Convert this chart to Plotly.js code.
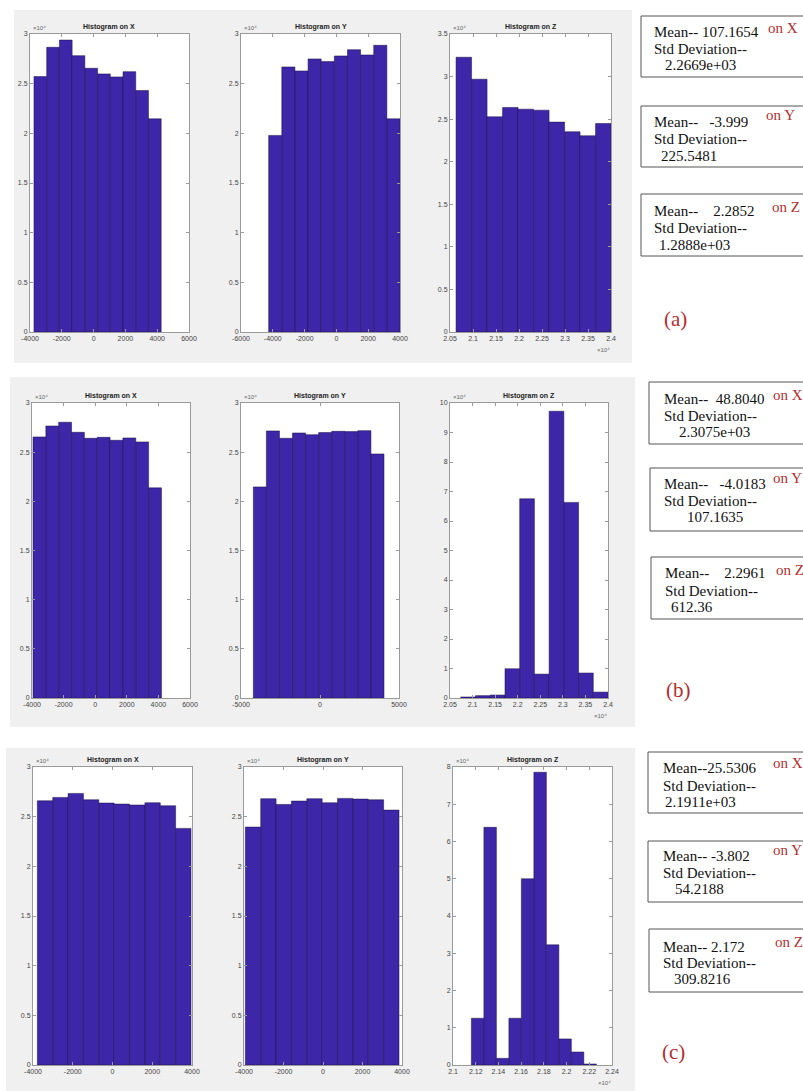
<!DOCTYPE html>
<html>
<head>
<meta charset="utf-8">
<script src="https://cdn.plot.ly/plotly-3.0.1.min.js"></script>
<style>
  html, body { margin: 0; padding: 0; background: #ffffff; }
  #chart { width: 803px; height: 1091px; }
</style>
</head>
<body>
<div id="chart"></div>
<script>
// ---------- histogram data: bin centres, bin widths and counts ----------
// (a)
const aX_centres = [-3350, -2550, -1750, -950, -150, 650, 1450, 2250, 3050, 3850];
const aX_width = 800;
const aX_counts = [25710, 28660, 29390, 27820, 26550, 25980, 25680, 26210, 24310, 21460];

const aY_centres = [-3847, -3021, -2195, -1369, -543, 283, 1109, 1935, 2761, 3587];
const aY_width = 826;
const aY_counts = [19790, 26680, 26280, 27490, 27220, 27790, 28420, 27890, 28860, 21460];

const aZ_centres = [20800, 21137, 21474, 21811, 22148, 22485, 22822, 23159, 23496, 23833];
const aZ_width = 337;
const aZ_counts = [32270, 29690, 25270, 26370, 26170, 26050, 24650, 23520, 23050, 24490];

// (b)
const bX_centres = [-3530, -2717, -1904, -1091, -278, 535, 1348, 2161, 2974, 3787];
const bX_width = 813;
const bX_counts = [26550, 27660, 28040, 27020, 26410, 26510, 26210, 26450, 26040, 21370];

const bY_centres = [-3806, -2979, -2152, -1325, -498, 329, 1156, 1983, 2810, 3637];
const bY_width = 827;
const bY_counts = [21470, 27160, 26410, 26950, 26780, 26990, 27120, 27090, 27190, 24820];

const bZ_centres = [20903, 21229, 21555, 21881, 22207, 22533, 22859, 23185, 23511, 23837];
const bZ_width = 326;
const bZ_counts = [350, 800, 1000, 9920, 67530, 8100, 97200, 66300, 8460, 2000];

// (c)
const cX_centres = [-3394, -2621, -1848, -1075, -302, 471, 1244, 2017, 2790, 3563];
const cX_width = 773;
const cX_counts = [26600, 26940, 27340, 26700, 26370, 26270, 26170, 26400, 26100, 23820];

const cY_centres = [-3543, -2765, -1987, -1209, -431, 347, 1125, 1903, 2681, 3459];
const cY_width = 778;
const cY_counts = [23950, 26810, 26230, 26570, 26810, 26400, 26840, 26770, 26700, 25660];

const cZ_centres = [21217, 21327, 21437, 21547, 21657, 21767, 21877, 21987, 22097, 22207];
const cZ_width = 110;
const cZ_counts = [12540, 63800, 1790, 12540, 50000, 78580, 32260, 6990, 3490, 270];

// axis tick values
const ticksXY_a_x = [-4000, -2000, 0, 2000, 4000, 6000];
const ticksXY_a_y = [-6000, -4000, -2000, 0, 2000, 4000];
const ticksXY_b_y = [-5000, 0, 5000];
const ticksXY_c = [-4000, -2000, 0, 2000, 4000];
const ticksZ_ab = [20500, 21000, 21500, 22000, 22500, 23000, 23500, 24000];
const ticksZ_c = [21000, 21200, 21400, 21600, 21800, 22000, 22200, 22400];
const countTicks3 = [0, 5000, 10000, 15000, 20000, 25000, 30000];
const countTicks35 = [0, 5000, 10000, 15000, 20000, 25000, 30000, 35000];
const countTicks10 = [0, 10000, 20000, 30000, 40000, 50000, 60000, 70000, 80000, 90000, 100000];
const countTicks8 = [0, 10000, 20000, 30000, 40000, 50000, 60000, 70000, 80000];

// statistics printed beside each row
const statsA = [
  ['Mean--\u00a0107.1654', 'Std Deviation--', '2.2669e+03', 'on X'],
  ['Mean--\u00a0\u00a0\u00a0-3.999', 'Std Deviation--', '225.5481', 'on Y'],
  ['Mean--\u00a0\u00a0\u00a0\u00a02.2852', 'Std Deviation--', '1.2888e+03', 'on Z']
];
const statsB = [
  ['Mean--\u00a0\u00a048.8040', 'Std Deviation--', '2.3075e+03', 'on X'],
  ['Mean--\u00a0\u00a0\u00a0-4.0183', 'Std Deviation--', '107.1635', 'on Y'],
  ['Mean--\u00a0\u00a0\u00a0\u00a02.2961', 'Std Deviation--', '612.36', 'on Z']
];
const statsC = [
  ['Mean--25.5306', 'Std Deviation--', '2.1911e+03', 'on X'],
  ['Mean--\u00a0-3.802', 'Std Deviation--', '54.2188', 'on Y'],
  ['Mean--\u00a02.172', 'Std Deviation--', '309.8216', 'on Z']
];
const panelLabels = ['(a)', '(b)', '(c)'];
const histTitles = ['Histogram on X', 'Histogram on Y', 'Histogram on Z'];
const exponentLabel = '\u00d710\u2074';

// ---------- page geometry (pixels) ----------
const W = 803, H = 1091;
const px = v => v / W;
const py = v => 1 - v / H;

const BAR_FILL = 'rgb(62,38,168)';
const BAR_EDGE = 'rgba(25,15,70,0.85)';
const AX_COL = '#9a9a9a';
const RED = 'rgb(180,45,45)';
const SANS = 'Liberation Sans, Arial, sans-serif';
const SERIF = 'Liberation Serif, Times New Roman, serif';

// plot rectangles: [left, right, top, bottom]
const rects = [
  [30, 189, 34, 332], [241, 400, 34, 332], [450, 611, 34, 332],
  [32, 190, 403, 698], [241, 399, 403, 698], [450, 608, 403, 698],
  [33, 192, 767, 1065], [244, 402, 767, 1065], [453, 612, 767, 1065]
];

const hists = [
  {c: aX_centres, w: aX_width, n: aX_counts, xr: [-4000, 6000], xt: ticksXY_a_x, yr: [0, 30000], yt: countTicks3, z: false},
  {c: aY_centres, w: aY_width, n: aY_counts, xr: [-6000, 4000], xt: ticksXY_a_y, yr: [0, 30000], yt: countTicks3, z: false},
  {c: aZ_centres, w: aZ_width, n: aZ_counts, xr: [20500, 24000], xt: ticksZ_ab, yr: [0, 35000], yt: countTicks35, z: true},
  {c: bX_centres, w: bX_width, n: bX_counts, xr: [-4000, 6000], xt: ticksXY_a_x, yr: [0, 30000], yt: countTicks3, z: false},
  {c: bY_centres, w: bY_width, n: bY_counts, xr: [-5000, 5000], xt: ticksXY_b_y, yr: [0, 30000], yt: countTicks3, z: false},
  {c: bZ_centres, w: bZ_width, n: bZ_counts, xr: [20500, 24000], xt: ticksZ_ab, yr: [0, 100000], yt: countTicks10, z: true},
  {c: cX_centres, w: cX_width, n: cX_counts, xr: [-4000, 4000], xt: ticksXY_c, yr: [0, 30000], yt: countTicks3, z: false},
  {c: cY_centres, w: cY_width, n: cY_counts, xr: [-4000, 4000], xt: ticksXY_c, yr: [0, 30000], yt: countTicks3, z: false},
  {c: cZ_centres, w: cZ_width, n: cZ_counts, xr: [21000, 22400], xt: ticksZ_c, yr: [0, 80000], yt: countTicks8, z: true}
];

const scaled = v => String(+(v / 10000).toFixed(4));

const traces = [];
const layout = {
  width: W, height: H,
  margin: {l: 0, r: 0, t: 0, b: 0},
  paper_bgcolor: '#ffffff',
  plot_bgcolor: 'rgba(0,0,0,0)',
  showlegend: false,
  bargap: 0,
  shapes: [],
  annotations: []
};

// grey figure panels
[[14, 632, 10, 363], [10, 635, 377, 727], [6, 635, 748, 1091]].forEach(r => {
  layout.shapes.push({type: 'rect', xref: 'paper', yref: 'paper', layer: 'below',
    x0: px(r[0]), x1: px(r[1]), y0: py(r[3]), y1: py(r[2]),
    fillcolor: '#f0f0f0', line: {width: 0}});
});

const axisBase = {
  showline: true, linecolor: AX_COL, linewidth: 1, mirror: 'ticks',
  ticks: 'inside', ticklen: 3, tickwidth: 1, tickcolor: AX_COL,
  showgrid: false, zeroline: false, fixedrange: true,
  tickfont: {family: SANS, size: 7, color: '#444'}
};

hists.forEach((h, i) => {
  const k = i + 1;
  const xa = 'xaxis' + (k === 1 ? '' : k);
  const ya = 'yaxis' + (k === 1 ? '' : k);
  const xr = 'x' + (k === 1 ? '' : k);
  const yr = 'y' + (k === 1 ? '' : k);
  const r = rects[i];

  traces.push({
    type: 'bar', x: h.c, y: h.n, width: h.w,
    xaxis: xr, yaxis: yr,
    marker: {color: BAR_FILL, line: {color: BAR_EDGE, width: 0.6}},
    hoverinfo: 'x+y'
  });

  layout[xa] = Object.assign({}, axisBase, {
    domain: [px(r[0]), px(r[1])], anchor: yr, range: h.xr,
    tickmode: 'array', tickvals: h.xt,
    ticktext: h.xt.map(v => h.z ? scaled(v) : String(v))
  });
  layout[ya] = Object.assign({}, axisBase, {
    domain: [py(r[3]), py(r[2])], anchor: xr, range: h.yr,
    tickmode: 'array', tickvals: h.yt, ticktext: h.yt.map(scaled)
  });

  // white axes area
  layout.shapes.push({type: 'rect', xref: 'paper', yref: 'paper', layer: 'below',
    x0: px(r[0]), x1: px(r[1]), y0: py(r[3]), y1: py(r[2]),
    fillcolor: '#ffffff', line: {width: 0}});

  // subplot title
  layout.annotations.push({xref: 'paper', yref: 'paper',
    x: px((r[0] + r[1]) / 2), y: py(r[2] - 1), xanchor: 'center', yanchor: 'bottom',
    text: '<b>' + histTitles[i % 3] + '</b>', showarrow: false,
    font: {family: SANS, size: 7, color: '#222'}});

  // count exponent
  layout.annotations.push({xref: 'paper', yref: 'paper',
    x: px(r[0] + 1), y: py(r[2] - 1), xanchor: 'left', yanchor: 'bottom',
    text: exponentLabel, showarrow: false,
    font: {family: SANS, size: 6, color: '#666'}});

  // value exponent on Z axes
  if (h.z) {
    layout.annotations.push({xref: 'paper', yref: 'paper',
      x: px(r[1] + 1), y: py(r[3] + 13), xanchor: 'right', yanchor: 'top',
      text: exponentLabel, showarrow: false,
      font: {family: SANS, size: 6, color: '#666'}});
  }
});

// statistics boxes: rectangles [x0, top, bottom] and text anchors
const boxGeom = [
  {boxes: [[641, 16, 77], [641, 106, 167], [641, 194, 256]],
   lines: [[[652, 32], [652, 49], [663, 65], [766, 28]],
           [[652, 122], [652, 139], [659, 156], [764, 115]],
           [[652, 211], [652, 228], [657, 245], [770, 207]]],
   label: [675, 319], stats: statsA},
  {boxes: [[649, 382, 444], [650, 468, 531], [651, 557, 619]],
   lines: [[[662, 399], [662, 416], [677, 432], [771, 395]],
           [[662, 484], [662, 501], [685, 517], [771, 478]],
           [[663, 573], [663, 591], [669, 607], [774, 570]]],
   label: [678, 690], stats: statsB},
  {boxes: [[648, 752, 813], [648, 841, 902], [649, 929, 992]],
   lines: [[[661, 768], [661, 786], [663, 802], [771, 763]],
           [[661, 856], [661, 873], [673, 889], [771, 850]],
           [[661, 947], [661, 963], [672, 979], [773, 942]]],
   label: [673, 1052], stats: statsC}
];

boxGeom.forEach((g, gi) => {
  g.boxes.forEach((b, bi) => {
    layout.shapes.push({type: 'rect', xref: 'paper', yref: 'paper', layer: 'below',
      x0: px(b[0]), x1: px(812), y0: py(b[2]), y1: py(b[1]),
      fillcolor: '#ffffff', line: {color: '#555', width: 1}});
    const s = g.stats[bi];
    g.lines[bi].forEach((p, li) => {
      layout.annotations.push({xref: 'paper', yref: 'paper',
        x: px(p[0]), y: py(p[1]), xanchor: 'left', yanchor: 'middle',
        text: s[li], showarrow: false,
        font: {family: SERIF, size: 15, color: li === 3 ? RED : '#111'}});
    });
  });
  layout.annotations.push({xref: 'paper', yref: 'paper',
    x: px(g.label[0]), y: py(g.label[1]), xanchor: 'center', yanchor: 'middle',
    text: panelLabels[gi], showarrow: false,
    font: {family: SERIF, size: 21, color: RED}});
});

Plotly.newPlot('chart', traces, layout, {staticPlot: true, displayModeBar: false});
</script>
</body>
</html>
